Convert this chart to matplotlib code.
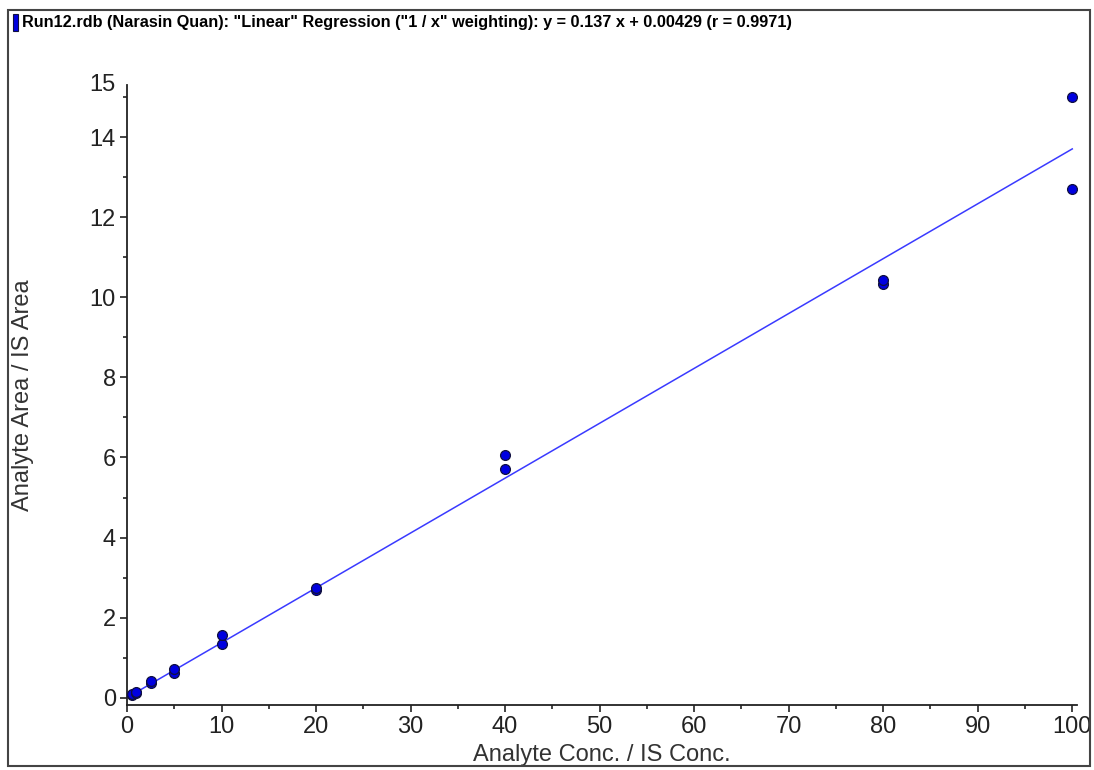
import matplotlib.pyplot as plt
from matplotlib.patches import Rectangle
import numpy as np

# calibration data
conc = [0.5, 0.5, 1, 1, 2.5, 2.5, 5, 5, 10, 10, 20, 20, 40, 40, 80, 80, 100, 100]
ratio = [0.07, 0.09, 0.13, 0.15, 0.38, 0.41, 0.62, 0.73, 1.35, 1.58,
         2.70, 2.75, 5.70, 6.07, 10.33, 10.42, 12.70, 15.0]
slope = 0.137
intercept = 0.00429
x_ticks = [0, 10, 20, 30, 40, 50, 60, 70, 80, 90, 100]
y_ticks = [0, 2, 4, 6, 8, 10, 12, 14]
title = 'Run12.rdb (Narasin Quan): "Linear" Regression ("1 / x" weighting): y = 0.137 x + 0.00429 (r = 0.9971)'

plt.rcParams['font.family'] = ['Liberation Sans Narrow', 'Liberation Sans', 'DejaVu Sans']

fig = plt.figure(figsize=(10.94, 7.7), dpi=100)
ax = fig.add_axes([127/1094, 1-705/770, (1077-127)/1094, (705-85)/770])

ax.set_xlim(0, 100.5)
ax.set_ylim(-0.18, 15.3)

xl = np.array([0, 100])
ax.plot(xl, slope*xl + intercept, color='#3a3aff', lw=1.1, zorder=2)
ax.scatter(conc, ratio, s=50, color='#0000e0', edgecolors='#101040', linewidths=0.9, zorder=3)

for s in ['top', 'right']:
    ax.spines[s].set_visible(False)
for s in ['left', 'bottom']:
    ax.spines[s].set_linewidth(1.3)
    ax.spines[s].set_color('#222222')

ax.set_xticks(x_ticks)
ax.set_xticks(np.arange(5, 100, 10), minor=True)
ax.set_yticks(y_ticks)
ax.set_yticks([1, 3, 5, 7, 9, 11, 13, 15], minor=True)
ax.tick_params(which='major', length=5, width=1.2, labelsize=17, pad=3, colors='#222222')
ax.tick_params(which='minor', length=3, width=1.2, colors='#222222')
# top label "15" sits at the end of the axis
ax.text(-0.012, 1.0, '15', transform=ax.transAxes, ha='right', va='center',
        fontsize=17, color='#222222')

ax.set_xlabel('Analyte Conc. / IS Conc.', fontsize=17, color='#333333', labelpad=4)
ax.set_ylabel('Analyte Area / IS Area', fontsize=17, color='#333333', labelpad=40)

# title line with the blue series marker
fig.text(22/1094, 1-22/770, title, fontsize=11.7, fontweight='bold', va='center', ha='left')
fig.patches.append(Rectangle((13/1094, 1-31/770), 5/1094, 17/770, transform=fig.transFigure,
                             facecolor='#0000e0', edgecolor='#101040', lw=0.8))
# outer frame
fig.patches.append(Rectangle((8/1094, 1-766/770), (1090-8)/1094, (766-10)/770,
                             transform=fig.transFigure, fill=False, edgecolor='#444444', lw=1.5))

fig.savefig('out.png', dpi=100)
